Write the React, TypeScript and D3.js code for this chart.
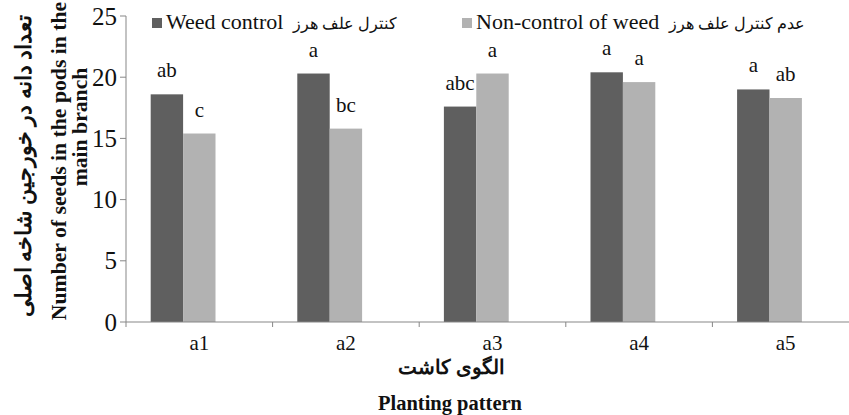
import { useMemo } from "react";
import { scaleBand, scaleLinear } from "d3";

const totalWidth = 849;
const totalHeight = 415;

const categories = ["a1", "a2", "a3", "a4", "a5"];
const weedControl = [18.6, 20.3, 17.6, 20.4, 19.0];
const nonControl = [15.4, 15.8, 20.3, 19.6, 18.3];
const weedControlLetters = ["ab", "a", "abc", "a", "a"];
const nonControlLetters = ["c", "bc", "a", "a", "ab"];
const yTicks = [0, 5, 10, 15, 20, 25];

const seriesEnglish = ["Weed control", "Non-control of weed"];
const seriesPersian = ["کنترل علف هرز", "عدم کنترل علف هرز"];
const seriesColors = ["#5f5f5f", "#b2b2b2"];

const serif = "Liberation Serif";
const axisColor = "#878787";

const plotLeft = 126;
const plotRight = 859;
const plotTop = 16;
const plotBottom = 322;

export default function App() {
  const { xScale, innerScale, yScale } = useMemo(() => {
    const xScale = scaleBand<string>()
      .domain(categories)
      .range([plotLeft, plotRight])
      .paddingInner(0)
      .paddingOuter(0);
    // Excel leaves room for a third, empty series in each group
    const innerScale = scaleBand<string>()
      .domain(["control", "noncontrol", "blank"])
      .range([0, xScale.bandwidth()])
      .paddingInner(0)
      .paddingOuter(0.762);
    const yScale = scaleLinear().domain([0, 25]).range([plotBottom, plotTop]);
    return { xScale, innerScale, yScale };
  }, []);

  const series = [
    { key: "control", values: weedControl, letters: weedControlLetters },
    { key: "noncontrol", values: nonControl, letters: nonControlLetters },
  ];

  const legendX = [152, 462];

  return (
    <svg
      width={totalWidth}
      height={totalHeight}
      style={{ position: "absolute", left: 0, top: 0, background: "white" }}
    >
      {/* bars */}
      {series.map((s, si) =>
        categories.map((c, i) => {
          const x = (xScale(c) ?? 0) + (innerScale(s.key) ?? 0);
          const y = yScale(s.values[i]);
          return (
            <g key={`${s.key}-${c}`}>
              <rect
                x={x}
                y={y}
                width={innerScale.bandwidth()}
                height={plotBottom - y}
                fill={seriesColors[si]}
              />
              <text
                x={x + innerScale.bandwidth() / 2}
                y={y - 17}
                textAnchor="middle"
                fontFamily={serif}
                fontSize={21}
                fill="#111"
              >
                {s.letters[i]}
              </text>
            </g>
          );
        }),
      )}

      {/* y axis */}
      <line x1={plotLeft} x2={plotLeft} y1={plotTop} y2={plotBottom} stroke={axisColor} />
      {yTicks.map((t) => (
        <g key={t}>
          <line
            x1={plotLeft - 6}
            x2={plotLeft}
            y1={yScale(t)}
            y2={yScale(t)}
            stroke={axisColor}
          />
          <text
            x={plotLeft - 9}
            y={yScale(t)}
            dy="0.34em"
            textAnchor="end"
            fontFamily={serif}
            fontSize={25}
            fill="#111"
          >
            {t}
          </text>
        </g>
      ))}

      {/* x axis */}
      <line x1={plotLeft} x2={plotRight} y1={plotBottom} y2={plotBottom} stroke={axisColor} />
      {categories.map((c) => (
        <g key={c}>
          <line
            x1={xScale(c)}
            x2={xScale(c)}
            y1={plotBottom}
            y2={plotBottom + 5}
            stroke={axisColor}
          />
          <text
            x={(xScale(c) ?? 0) + xScale.bandwidth() / 2}
            y={350}
            textAnchor="middle"
            fontFamily={serif}
            fontSize={21}
            fill="#111"
          >
            {c}
          </text>
        </g>
      ))}

      {/* x title */}
      <text
        x={451}
        y={374}
        textAnchor="middle"
        fontFamily={serif}
        fontSize={20}
        fontWeight="bold"
        fill="#111"
      >
        الگوی کاشت
      </text>
      <text
        x={450}
        y={410}
        textAnchor="middle"
        fontFamily={serif}
        fontSize={20.5}
        fontWeight="bold"
        fill="#111"
      >
        Planting pattern
      </text>

      {/* y title */}
      <text
        transform="translate(31, 166) rotate(-90)"
        textAnchor="middle"
        fontFamily={serif}
        fontSize={22}
        fontWeight="bold"
        fill="#111"
      >
        تعداد دانه در خورجین شاخه اصلی
      </text>
      <text
        transform="translate(66, 161) rotate(-90)"
        textAnchor="middle"
        fontFamily={serif}
        fontSize={21.7}
        fontWeight="bold"
        fill="#111"
      >
        Number of seeds in the pods in the
      </text>
      <text
        transform="translate(87, 127) rotate(-90)"
        textAnchor="middle"
        fontFamily={serif}
        fontSize={21.7}
        fontWeight="bold"
        fill="#111"
      >
        main branch
      </text>

      {/* legend */}
      {seriesEnglish.map((name, i) => (
        <g key={name}>
          <rect x={legendX[i]} y={18} width={10} height={10} fill={seriesColors[i]} />
          <text
            x={legendX[i] + 14}
            y={29}
            fontFamily={serif}
            fontSize={22}
            fill="#111"
            direction="ltr"
          >
            <tspan>{name}</tspan>
            <tspan fontSize={16} dx={6}>
              {" " + seriesPersian[i]}
            </tspan>
          </text>
        </g>
      ))}
    </svg>
  );
}
